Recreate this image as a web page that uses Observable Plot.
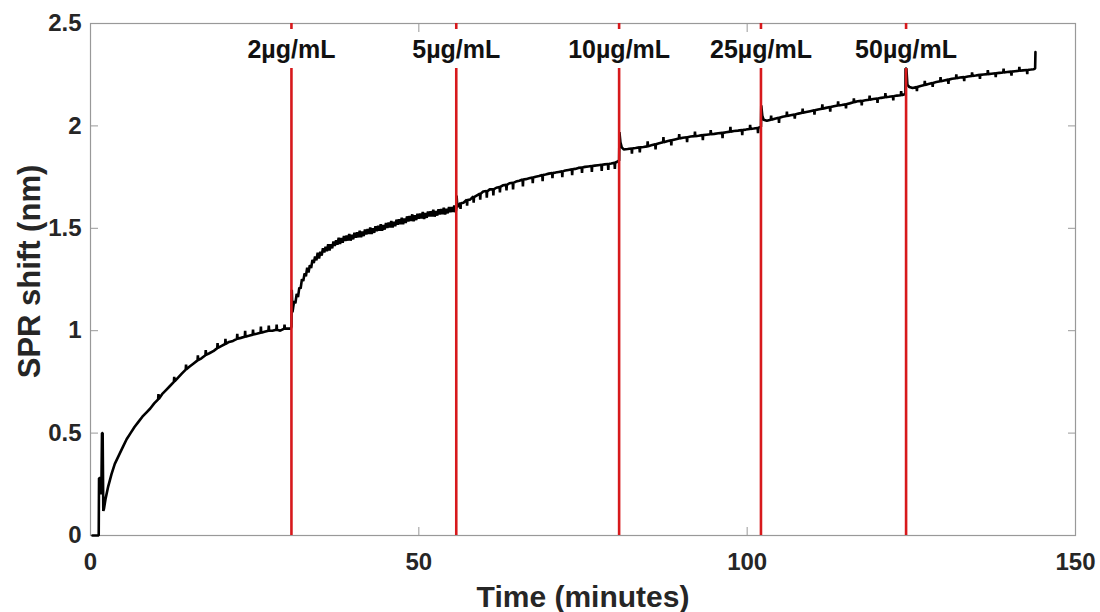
<!DOCTYPE html>
<html>
<head>
<meta charset="utf-8">
<script src="https://cdn.jsdelivr.net/npm/d3@7"></script>
<script src="https://cdn.jsdelivr.net/npm/@observablehq/plot@0.6"></script>
<style>
  html, body { margin: 0; padding: 0; background: #fff; }
  #chart svg { display: block; }
</style>
</head>
<body>
<div id="chart"></div>
<script>
// SPR trace, [time (minutes), SPR shift (nm)], one array per phase
const stabilization = [
  [0.3,0],[1.25,0],[1.3,0.28],[1.55,0.28],[1.65,0.2],[1.75,0.5],[1.85,0.5],[1.95,0.12],[2.05,0.13],[2.3,0.18],[2.7,0.24],[3.2,0.3],[3.7,0.35],[4.3,0.39],[4.9,0.43],[5.5,0.47],[6.1,0.5],[6.7,0.53],[7.3,0.555],[7.9,0.58],[8.5,0.6],[9.1,0.62],[9.7,0.645],[10.3,0.665],[10.35,0.69],[10.4,0.667],[10.9,0.69],[11.5,0.71],[12.1,0.73],[12.7,0.75],[12.75,0.775],[12.8,0.752],[13.3,0.77],[13.9,0.79],[14.5,0.81],[14.55,0.835],[14.6,0.812],[15.1,0.825],[15.7,0.84],[16.3,0.855],[16.35,0.88],[16.4,0.857],[16.9,0.865],[17.5,0.88],[17.55,0.905],[17.6,0.882],[18.1,0.89],[18.7,0.9],[19.3,0.915],[19.35,0.94],[19.4,0.916],[19.9,0.925],[20.5,0.935],[20.55,0.96],[20.6,0.936],[21.1,0.945],[21.7,0.95],[22.3,0.96],[22.35,0.985],[22.4,0.961],[22.9,0.965],[23.5,0.97],[23.55,1.0],[23.6,0.971],[24.1,0.975],[24.7,0.98],[24.75,1.005],[24.8,0.981],[25.3,0.985],[25.9,0.99],[25.95,1.02],[26.0,0.99],[26.5,0.995],[27.1,1.0],[27.15,1.025],[27.2,1.0],[27.7,1.0],[28.3,1.005],[28.35,1.03],[28.4,1.005],[28.9,1.0],[29.5,1.01],[29.55,1.03],[29.6,1.01],[30.1,1.01],[30.5,1.01]
];
const phase2 = [
  [30.6,1.02],[30.65,1.2],[30.75,1.09],[30.85,1.11],
  [31.0,1.144],[31.2,1.134],[31.4,1.18],[31.6,1.164],[31.8,1.21],[32.0,1.206],[32.2,1.252],[32.4,1.242],[32.6,1.28],[32.8,1.266],[33.0,1.308],[33.2,1.284],[33.4,1.32],[33.6,1.306],[33.8,1.346],[34.0,1.33],[34.2,1.362],[34.4,1.344],[34.6,1.381],[34.8,1.353],[35.0,1.385],[35.2,1.367],[35.4,1.403],[35.6,1.382],[35.8,1.41],[36.0,1.388],[36.2,1.422],[36.4,1.392],[36.6,1.422],[36.8,1.402],[37.0,1.436],[37.2,1.414],[37.4,1.442],[37.6,1.42],[37.8,1.454],[38.0,1.424],[38.2,1.452],[38.4,1.43],[38.6,1.462],[38.8,1.438],[39.0,1.464],[39.2,1.44],[39.4,1.472],[39.6,1.44],[39.8,1.468],[40.0,1.446],[40.2,1.478],[40.4,1.454],[40.6,1.48],[40.8,1.456],[41.0,1.488],[41.2,1.456],[41.4,1.484],[41.6,1.462],[41.8,1.494],[42.0,1.47],[42.2,1.496],[42.4,1.472],[42.6,1.504],[42.8,1.472],[43.0,1.5],[43.2,1.478],[43.4,1.51],[43.6,1.486],[43.8,1.512],[44.0,1.488],[44.2,1.52],[44.4,1.488],[44.6,1.516],[44.8,1.494],[45.0,1.526],[45.2,1.502],[45.4,1.528],[45.6,1.504],[45.8,1.536],[46.0,1.504],[46.2,1.532],[46.4,1.51],[46.6,1.542],[46.8,1.518],[47.0,1.544],[47.2,1.52],[47.4,1.552],[47.6,1.52],[47.8,1.548],[48.0,1.526],[48.2,1.558],[48.4,1.534],[48.6,1.56],[48.8,1.536],[49.0,1.568],[49.2,1.535],[49.4,1.563],[49.6,1.54],[49.8,1.571],[50.0,1.547],[50.2,1.572],[50.4,1.548],[50.6,1.579],[50.8,1.546],[51.0,1.574],[51.2,1.551],[51.4,1.582],[51.6,1.558],[51.8,1.583],[52.0,1.558],[52.2,1.59],[52.4,1.557],[52.6,1.584],[52.8,1.562],[53.0,1.593],[53.2,1.568],[53.4,1.594],[53.6,1.569],[53.8,1.6],[54.0,1.568],[54.2,1.595],[54.4,1.573],[54.6,1.604],[54.8,1.579],[55.0,1.604],[55.2,1.58],[55.4,1.611],[55.6,1.579]
];
const phase5 = [
  [55.7,1.595],[55.75,1.66],[55.85,1.61],[56.0,1.605],[56.3,1.625],[56.35,1.595],[56.4,1.622],[56.8,1.625],[57.3,1.64],[57.35,1.61],[57.4,1.638],[57.8,1.64],[58.3,1.655],[58.35,1.625],[58.4,1.652],[58.8,1.66],[59.3,1.67],[59.35,1.64],[59.4,1.668],[59.8,1.68],[60.3,1.682],[60.35,1.65],[60.4,1.68],[60.8,1.69],[61.3,1.69],[61.35,1.66],[61.4,1.69],[61.8,1.698],[62.3,1.702],[62.35,1.675],[62.4,1.702],[62.8,1.71],[63.3,1.712],[63.35,1.685],[63.4,1.712],[63.8,1.72],[64.3,1.722],[64.35,1.69],[64.4,1.722],[64.8,1.728],[65.3,1.732],[65.8,1.738],[65.85,1.705],[65.9,1.738],[66.3,1.74],[66.8,1.744],[67.3,1.748],[67.35,1.72],[67.4,1.748],[67.8,1.752],[68.3,1.755],[68.8,1.76],[68.85,1.73],[68.9,1.76],[69.3,1.763],[69.8,1.767],[70.3,1.77],[70.35,1.745],[70.4,1.77],[70.8,1.772],[71.3,1.775],[71.8,1.778],[71.85,1.75],[71.9,1.778],[72.3,1.782],[72.8,1.785],[73.3,1.788],[73.35,1.76],[73.4,1.788],[73.8,1.79],[74.3,1.795],[74.8,1.797],[74.85,1.77],[74.9,1.797],[75.3,1.8],[75.8,1.802],[76.3,1.804],[76.35,1.775],[76.4,1.804],[76.8,1.806],[77.3,1.808],[77.8,1.81],[77.85,1.78],[77.9,1.81],[78.3,1.812],[78.8,1.814],[78.85,1.785],[78.9,1.814],[79.3,1.816],[79.8,1.82],[79.85,1.79],[79.9,1.82],[80.2,1.825],[80.45,1.83]
];
const phase10 = [
  [80.5,1.83],[80.55,1.97],[80.7,1.92],[80.9,1.895],[81.2,1.885],[81.8,1.887],[82.4,1.89],[82.45,1.865],[82.5,1.89],[83.0,1.892],[83.6,1.895],[83.65,1.87],[83.7,1.895],[84.2,1.897],[84.8,1.9],[84.85,1.925],[84.9,1.9],[85.4,1.905],[86.0,1.91],[86.05,1.885],[86.1,1.91],[86.6,1.915],[87.2,1.92],[87.25,1.945],[87.3,1.92],[87.8,1.925],[88.4,1.93],[88.45,1.905],[88.5,1.93],[89.0,1.934],[89.6,1.938],[89.65,1.96],[89.7,1.938],[90.2,1.942],[90.8,1.945],[90.85,1.92],[90.9,1.945],[91.4,1.948],[92.0,1.95],[92.05,1.972],[92.1,1.95],[92.6,1.952],[93.2,1.955],[93.25,1.93],[93.3,1.955],[93.8,1.957],[94.4,1.959],[94.45,1.98],[94.5,1.959],[95.0,1.961],[95.6,1.964],[96.2,1.966],[96.25,1.94],[96.3,1.966],[96.8,1.969],[97.4,1.972],[97.45,1.995],[97.5,1.972],[98.0,1.975],[98.6,1.977],[99.2,1.98],[99.25,1.955],[99.3,1.98],[99.8,1.982],[100.4,1.985],[100.45,2.005],[100.5,1.985],[101.0,1.987],[101.6,1.99],[101.65,1.965],[101.7,1.99],[102.0,1.995]
];
const phase25 = [
  [102.1,1.995],[102.15,2.1],[102.3,2.05],[102.5,2.03],[103.0,2.025],[103.6,2.03],[103.65,2.05],[103.7,2.03],[104.2,2.035],[104.8,2.04],[104.85,2.015],[104.9,2.04],[105.4,2.045],[106.0,2.048],[106.05,2.07],[106.1,2.048],[106.6,2.052],[107.2,2.056],[107.25,2.035],[107.3,2.056],[107.8,2.06],[108.4,2.064],[108.45,2.085],[108.5,2.064],[109.0,2.068],[109.6,2.072],[110.2,2.076],[110.25,2.055],[110.3,2.076],[110.8,2.08],[111.4,2.084],[111.45,2.105],[111.5,2.084],[112.0,2.088],[112.6,2.092],[112.65,2.07],[112.7,2.092],[113.2,2.096],[113.8,2.1],[113.85,2.12],[113.9,2.1],[114.4,2.102],[115.0,2.106],[115.05,2.085],[115.1,2.106],[115.6,2.11],[116.2,2.115],[116.25,2.135],[116.3,2.115],[116.8,2.12],[117.4,2.122],[117.45,2.1],[117.5,2.122],[118.0,2.125],[118.6,2.128],[118.65,2.148],[118.7,2.128],[119.2,2.131],[119.8,2.134],[119.85,2.112],[119.9,2.134],[120.4,2.137],[121.0,2.14],[121.05,2.16],[121.1,2.14],[121.6,2.142],[122.2,2.145],[122.25,2.125],[122.3,2.145],[122.8,2.148],[123.4,2.15],[123.45,2.17],[123.5,2.15],[124.0,2.155]
];
const phase50 = [
  [124.1,2.16],[124.12,2.28],[124.25,2.28],[124.4,2.2],[124.7,2.19],[125.2,2.185],[125.8,2.19],[125.85,2.17],[125.9,2.19],[126.4,2.195],[127.0,2.2],[127.05,2.22],[127.1,2.2],[127.6,2.205],[128.2,2.21],[128.25,2.19],[128.3,2.21],[128.8,2.214],[129.4,2.218],[129.45,2.238],[129.5,2.218],[130.0,2.222],[130.6,2.226],[130.65,2.205],[130.7,2.226],[131.2,2.23],[131.8,2.233],[131.85,2.252],[131.9,2.233],[132.4,2.236],[133.0,2.238],[133.05,2.218],[133.1,2.238],[133.6,2.241],[134.2,2.244],[134.25,2.262],[134.3,2.244],[134.8,2.246],[135.4,2.249],[135.45,2.23],[135.5,2.249],[136.0,2.251],[136.6,2.253],[136.65,2.272],[136.7,2.253],[137.2,2.255],[137.8,2.257],[137.85,2.238],[137.9,2.257],[138.4,2.259],[139.0,2.261],[139.05,2.28],[139.1,2.261],[139.6,2.263],[140.2,2.265],[140.25,2.245],[140.3,2.265],[140.8,2.267],[141.4,2.269],[141.45,2.288],[141.5,2.269],[142.0,2.271],[142.6,2.273],[142.65,2.253],[142.7,2.273],[143.2,2.275],[143.6,2.277],[143.85,2.28],[143.9,2.36]
];
// Injection times (minutes) and concentration labels
const injectTime = [30.6, 55.7, 80.5, 102.1, 124.2];
const injectLabel = ["2\u00b5g/mL", "5\u00b5g/mL", "10\u00b5g/mL", "25\u00b5g/mL", "50\u00b5g/mL"];
const xTicks = [0, 50, 100, 150];
const yTicks = [0, 0.5, 1, 1.5, 2, 2.5];

const trace = [...stabilization, ...phase2, ...phase5, ...phase10, ...phase25, ...phase50]
  .map(([t, v]) => ({t, v}));
const injections = injectTime.map((t, i) => ({t, label: injectLabel[i]}));

const axisColor = "#999999";
const textColor = "#262626";
const red = "#d7191c";

const chart = Plot.plot({
  width: 1100,
  height: 612,
  marginLeft: 90,
  marginRight: 25,
  marginTop: 23,
  marginBottom: 77,
  style: {fontFamily: "'Liberation Sans', Arial, sans-serif", background: "#fff"},
  x: {domain: [0, 150]},
  y: {domain: [0, 2.5]},
  marks: [
    Plot.frame({stroke: axisColor, strokeWidth: 1.2}),
    Plot.axisY(yTicks, {anchor: "left", tickSize: -8, fill: "none", stroke: axisColor, label: null}),
    Plot.axisY(yTicks, {anchor: "right", tickSize: -8, fill: "none", stroke: axisColor, label: null}),
    Plot.axisX(xTicks, {anchor: "bottom", tickSize: -8, fill: "none", stroke: axisColor, label: null}),
    Plot.axisX(xTicks, {anchor: "top", tickSize: -8, fill: "none", stroke: axisColor, label: null}),
    Plot.axisY(yTicks, {anchor: "left", tickSize: 0, tickPadding: 9, fontSize: 24, fontWeight: "bold", fill: textColor, label: null, tickFormat: d => String(d)}),
    Plot.axisX(xTicks, {anchor: "bottom", tickSize: 0, tickPadding: 17, fontSize: 24, fontWeight: "bold", fill: textColor, label: null, tickFormat: d => String(d)}),
    Plot.line(trace, {x: "t", y: "v", stroke: "#000", strokeWidth: 2.6, strokeLinejoin: "miter"}),
    Plot.ruleX(injections, {x: "t", stroke: red, strokeWidth: 2.6, insetTop: 45}),
    Plot.ruleX(injections, {x: "t", stroke: red, strokeWidth: 2.6, insetBottom: 506}),
    Plot.text(injections, {x: "t", text: "label", frameAnchor: "top", lineAnchor: "middle", dy: 26, fontSize: 25, fontWeight: "bold", fill: "#111"}),
    Plot.text(["SPR shift (nm)"], {frameAnchor: "left", textAnchor: "middle", lineAnchor: "middle", dx: -60, dy: -8, rotate: -90, fontSize: 31, fontWeight: "bold", fill: textColor}),
    Plot.text(["Time (minutes)"], {frameAnchor: "bottom", textAnchor: "middle", lineAnchor: "middle", dy: 62, fontSize: 30, fontWeight: "bold", fill: textColor})
  ]
});
document.getElementById("chart").appendChild(chart);
</script>
</body>
</html>
